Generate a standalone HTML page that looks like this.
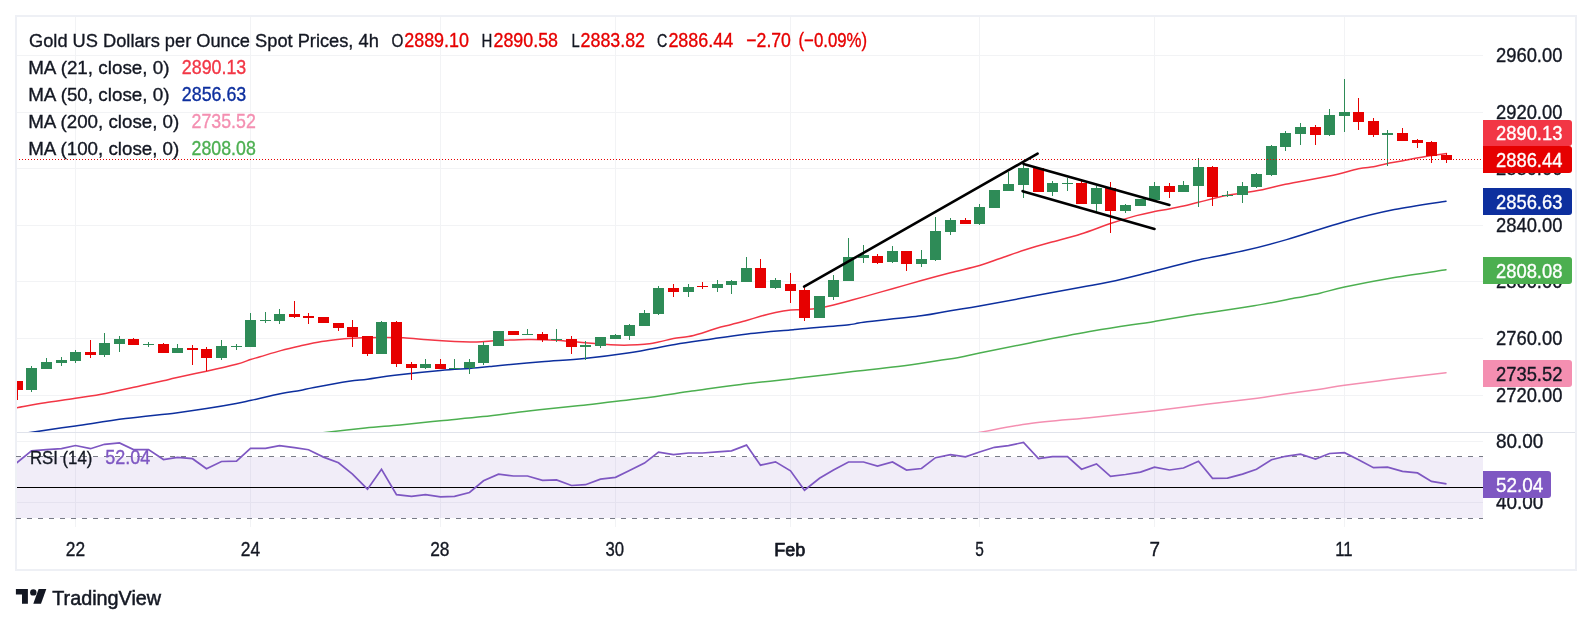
<!DOCTYPE html>
<html><head><meta charset="utf-8"><title>Gold chart</title>
<style>html,body{margin:0;padding:0;background:#fff}body{width:1592px;height:625px;overflow:hidden}svg{display:block}text{font-family:"Liberation Sans",sans-serif;font-size:19.2px;stroke-width:0.35px;paint-order:stroke fill}</style>
</head><body>
<svg width="1592" height="625" viewBox="0 0 1592 625" style="will-change:transform">
<defs><clipPath id="main"><rect x="17" y="17" width="1466" height="416"/></clipPath><clipPath id="rsi"><rect x="17" y="433" width="1466" height="94"/></clipPath></defs>
<rect x="0" y="0" width="1592" height="625" fill="#ffffff"/>
<rect x="16" y="16" width="1560" height="554" fill="none" stroke="#eef0f5" stroke-width="2"/>
<g fill="#f2f3f5" shape-rendering="crispEdges">
<rect x="75" y="17" width="1" height="510"/>
<rect x="250" y="17" width="1" height="510"/>
<rect x="440" y="17" width="1" height="510"/>
<rect x="615" y="17" width="1" height="510"/>
<rect x="790" y="17" width="1" height="510"/>
<rect x="979" y="17" width="1" height="510"/>
<rect x="1154" y="17" width="1" height="510"/>
<rect x="1344" y="17" width="1" height="510"/>
<rect x="17" y="55" width="1466" height="1"/>
<rect x="17" y="112" width="1466" height="1"/>
<rect x="17" y="168" width="1466" height="1"/>
<rect x="17" y="225" width="1466" height="1"/>
<rect x="17" y="281" width="1466" height="1"/>
<rect x="17" y="338" width="1466" height="1"/>
<rect x="17" y="395" width="1466" height="1"/>
<rect x="17" y="441" width="1466" height="1"/>
<rect x="17" y="502" width="1466" height="1"/>
</g>
<rect x="17" y="457" width="1466" height="61" fill="#7e57c2" fill-opacity="0.11"/>
<g stroke="#787b86" stroke-width="1" stroke-dasharray="5 6" shape-rendering="crispEdges"><line x1="16" y1="456.5" x2="1483" y2="456.5"/><line x1="16" y1="518.5" x2="1483" y2="518.5"/></g>
<rect x="17" y="487" width="1466" height="1" fill="#000" shape-rendering="crispEdges"/>
<g clip-path="url(#main)">
<g fill="none" stroke-width="1.5" stroke-linejoin="round" stroke-linecap="round">
<path stroke="#f48fb1" d="M960.0 435.0 C963.0 434.6 966.6 434.6 978.0 432.7 C989.4 430.8 1009.3 426.3 1028.6 423.7 C1047.9 421.1 1073.0 419.4 1094.0 417.2 C1115.0 415.0 1135.4 412.9 1154.4 410.7 C1173.5 408.5 1191.2 406.2 1208.3 404.1 C1225.4 402.0 1244.8 399.8 1257.3 398.2 C1269.8 396.6 1273.0 395.8 1283.4 394.3 C1293.9 392.8 1309.8 390.7 1320.0 389.2 C1330.2 387.7 1332.1 387.0 1344.5 385.3 C1356.9 383.6 1377.5 380.9 1394.4 378.8 C1411.3 376.7 1437.4 373.7 1446.0 372.7"/>
<path stroke="#4caf50" d="M300.0 434.9 C303.8 434.5 312.0 433.8 322.9 432.7 C333.8 431.6 352.4 429.3 365.3 428.0 C378.2 426.7 387.5 426.1 400.0 424.9 C412.5 423.7 426.7 422.2 440.5 420.8 C454.3 419.4 468.2 418.2 482.9 416.6 C497.6 415.0 512.8 412.8 528.6 411.0 C544.4 409.2 559.1 407.9 577.6 405.8 C596.1 403.7 620.6 401.1 639.7 398.6 C658.8 396.2 675.1 393.5 692.0 391.1 C708.9 388.8 724.7 386.5 741.0 384.5 C757.3 382.5 780.2 380.1 790.0 379.0 C799.8 377.9 790.2 378.8 800.0 377.7 C809.8 376.6 832.7 374.0 849.0 372.1 C865.3 370.2 883.3 368.5 898.0 366.6 C912.7 364.7 926.9 362.3 937.2 360.7 C947.5 359.1 952.9 358.5 960.0 357.2 C967.1 355.9 968.2 355.3 979.6 353.0 C991.0 350.7 1009.5 346.9 1028.6 343.2 C1047.7 339.5 1073.0 334.4 1094.0 330.8 C1115.0 327.2 1137.1 324.2 1154.5 321.4 C1171.9 318.6 1189.4 315.6 1198.4 314.1 C1207.4 312.7 1199.0 314.1 1208.3 312.7 C1217.6 311.3 1239.3 308.3 1254.0 305.8 C1268.7 303.3 1285.4 299.9 1296.4 297.8 C1307.4 295.7 1312.0 295.0 1320.0 293.2 C1328.0 291.4 1332.1 289.6 1344.5 287.0 C1356.9 284.4 1377.5 280.4 1394.4 277.5 C1411.3 274.6 1437.4 271.1 1446.0 269.8"/>
<path stroke="#0d2f9e" d="M16.0 435.0 C18.4 434.6 20.3 434.1 30.2 432.6 C40.1 431.1 59.5 428.2 75.4 425.9 C91.3 423.6 108.8 420.8 125.6 418.6 C142.3 416.4 162.4 414.6 175.9 412.9 C189.4 411.2 196.4 410.2 206.5 408.6 C216.6 407.1 228.7 405.0 236.2 403.6 C243.7 402.2 243.8 402.0 251.3 400.3 C258.8 398.6 273.3 395.1 281.4 393.5 C289.5 391.9 294.6 391.4 300.0 390.4 C305.4 389.4 305.8 388.9 314.0 387.4 C322.2 385.9 340.1 382.7 349.0 381.3 C357.9 379.9 359.8 380.2 367.4 379.2 C375.0 378.2 382.5 376.7 394.7 375.2 C406.9 373.7 428.0 371.5 440.5 370.4 C453.0 369.3 461.3 369.0 469.5 368.4 C477.7 367.8 484.4 367.1 489.5 366.6 C494.6 366.1 491.3 366.3 500.0 365.5 C508.7 364.7 527.7 362.9 541.7 361.7 C555.7 360.5 569.6 359.9 584.2 358.4 C598.9 356.9 614.5 355.0 629.6 352.7 C644.7 350.4 661.8 346.7 675.0 344.5 C688.2 342.3 696.6 341.2 708.7 339.4 C720.8 337.6 734.0 335.5 747.5 333.9 C761.0 332.3 781.2 330.8 790.0 330.0 C798.8 329.2 790.2 329.9 800.0 329.0 C809.8 328.1 838.4 325.8 849.0 324.7 C859.6 323.6 851.6 323.7 863.6 322.2 C875.6 320.7 906.4 317.7 920.9 315.8 C935.4 313.9 940.6 312.3 950.4 310.7 C960.2 309.1 967.1 308.3 979.6 306.1 C992.1 303.9 1008.4 300.7 1025.3 297.6 C1042.2 294.5 1066.7 289.9 1080.9 287.3 C1095.1 284.7 1098.0 284.5 1110.3 281.8 C1122.6 279.1 1140.0 274.6 1154.7 271.0 C1169.4 267.4 1183.8 263.2 1198.4 259.9 C1213.0 256.6 1227.8 254.5 1242.5 251.1 C1257.2 247.7 1269.6 244.5 1286.6 239.6 C1303.6 234.7 1326.5 226.7 1344.5 221.7 C1362.5 216.7 1377.5 213.0 1394.4 209.6 C1411.3 206.2 1437.4 202.6 1446.0 201.2"/>
<path stroke="#f23645" d="M16.3 407.8 C21.1 407.0 35.4 404.4 45.2 402.8 C55.1 401.2 65.4 399.9 75.4 398.3 C85.5 396.7 94.6 395.5 105.5 393.4 C116.4 391.3 131.1 387.8 140.7 385.7 C150.3 383.6 157.4 382.1 163.3 380.8 C169.2 379.5 168.7 379.3 175.9 377.7 C183.1 376.1 196.4 373.4 206.5 371.2 C216.6 369.0 229.1 366.2 236.4 364.3 C243.7 362.4 246.6 360.8 250.5 359.5 C254.4 358.2 254.9 358.3 260.0 356.8 C265.1 355.3 274.1 352.4 280.8 350.6 C287.5 348.8 293.2 347.5 300.0 346.0 C306.8 344.5 314.3 342.8 321.7 341.6 C329.1 340.4 337.7 339.5 344.5 338.8 C351.3 338.1 356.4 337.9 362.5 337.7 C368.6 337.5 374.2 337.4 381.0 337.4 C387.8 337.4 395.5 337.3 403.3 337.7 C411.1 338.1 419.2 339.1 427.8 339.8 C436.4 340.5 446.4 341.2 454.6 341.6 C462.8 342.0 469.5 342.1 476.8 341.9 C484.1 341.7 490.1 341.0 498.5 340.6 C506.9 340.2 517.8 339.5 527.5 339.4 C537.2 339.3 546.9 339.6 556.6 340.2 C566.3 340.8 576.5 341.9 585.5 342.7 C594.5 343.5 603.4 344.4 610.7 344.8 C618.0 345.2 623.8 345.2 629.4 345.1 C635.0 345.0 639.6 344.8 644.5 344.3 C649.4 343.8 653.7 342.9 658.5 342.0 C663.3 341.1 668.5 339.5 673.5 338.6 C678.5 337.7 683.6 337.5 688.4 336.6 C693.2 335.7 697.5 334.4 702.4 333.0 C707.2 331.6 712.6 329.4 717.5 328.0 C722.4 326.6 726.7 325.8 731.5 324.5 C736.3 323.2 741.7 321.9 746.5 320.5 C751.3 319.1 755.7 317.7 760.5 316.3 C765.3 314.9 770.5 313.5 775.5 312.4 C780.5 311.3 785.8 310.4 790.6 309.9 C795.4 309.4 799.6 309.9 804.4 309.6 C809.2 309.3 814.6 308.8 819.5 308.0 C824.4 307.2 828.7 306.2 833.5 305.0 C838.3 303.8 843.5 302.4 848.5 301.0 C853.5 299.6 856.3 298.9 863.6 296.9 C870.9 294.8 882.9 291.4 892.5 288.7 C902.1 286.0 911.9 283.2 921.5 280.5 C931.1 277.8 940.7 275.2 950.4 272.7 C960.1 270.2 971.3 267.9 979.6 265.5 C987.9 263.1 992.4 261.1 1000.0 258.5 C1007.6 255.9 1017.0 252.5 1025.3 249.8 C1033.6 247.1 1040.7 245.1 1050.0 242.5 C1059.3 239.9 1070.8 237.2 1080.9 234.0 C1091.0 230.8 1101.2 226.6 1110.4 223.5 C1119.7 220.4 1129.1 217.6 1136.4 215.6 C1143.8 213.6 1149.1 212.6 1154.5 211.5 C1159.9 210.4 1164.2 209.8 1169.0 208.9 C1173.8 208.0 1178.6 207.1 1183.5 206.0 C1188.4 204.9 1191.2 204.1 1198.5 202.3 C1205.8 200.5 1217.8 197.2 1227.5 195.3 C1237.2 193.4 1246.8 192.6 1256.5 190.8 C1266.2 189.0 1273.2 186.8 1285.4 184.3 C1297.6 181.8 1317.3 178.6 1329.5 176.0 C1341.7 173.4 1351.1 170.4 1358.4 168.8 C1365.7 167.2 1368.7 167.6 1373.5 166.7 C1378.3 165.8 1379.8 165.1 1387.5 163.6 C1395.2 162.1 1410.2 159.1 1420.0 157.4 C1429.8 155.7 1442.0 154.2 1446.4 153.6"/>
</g>
<g shape-rendering="crispEdges">
<g fill="#e60000"><rect x="17" y="381" width="1" height="19"/><rect x="12" y="381" width="11" height="9"/></g>
<g fill="#2e8b57"><rect x="31" y="366" width="1" height="26"/><rect x="26" y="368" width="11" height="22"/></g>
<g fill="#2e8b57"><rect x="46" y="358" width="1" height="11"/><rect x="41" y="362" width="11" height="7"/></g>
<g fill="#2e8b57"><rect x="61" y="357" width="1" height="9"/><rect x="56" y="360" width="11" height="3"/></g>
<g fill="#2e8b57"><rect x="75" y="350" width="1" height="13"/><rect x="70" y="352" width="11" height="9"/></g>
<g fill="#e60000"><rect x="90" y="340" width="1" height="18"/><rect x="85" y="352" width="11" height="3"/></g>
<g fill="#2e8b57"><rect x="104" y="333" width="1" height="24"/><rect x="99" y="343" width="11" height="12"/></g>
<g fill="#2e8b57"><rect x="119" y="336" width="1" height="16"/><rect x="114" y="339" width="11" height="5"/></g>
<g fill="#e60000"><rect x="133" y="338" width="1" height="7"/><rect x="128" y="339" width="11" height="6"/></g>
<g fill="#2e8b57"><rect x="148" y="342" width="1" height="5"/><rect x="143" y="344" width="11" height="1"/></g>
<g fill="#e60000"><rect x="163" y="343" width="1" height="10"/><rect x="158" y="344" width="11" height="9"/></g>
<g fill="#2e8b57"><rect x="177" y="344" width="1" height="9"/><rect x="172" y="348" width="11" height="5"/></g>
<g fill="#e60000"><rect x="192" y="345" width="1" height="20"/><rect x="187" y="348" width="11" height="2"/></g>
<g fill="#e60000"><rect x="206" y="347" width="1" height="24"/><rect x="201" y="349" width="11" height="9"/></g>
<g fill="#2e8b57"><rect x="221" y="340" width="1" height="20"/><rect x="216" y="346" width="11" height="12"/></g>
<g fill="#2e8b57"><rect x="236" y="344" width="1" height="6"/><rect x="231" y="346" width="11" height="1"/></g>
<g fill="#2e8b57"><rect x="250" y="313" width="1" height="34"/><rect x="245" y="320" width="11" height="27"/></g>
<g fill="#2e8b57"><rect x="265" y="312" width="1" height="11"/><rect x="260" y="320" width="11" height="1"/></g>
<g fill="#2e8b57"><rect x="279" y="309" width="1" height="15"/><rect x="274" y="314" width="11" height="7"/></g>
<g fill="#e60000"><rect x="294" y="301" width="1" height="17"/><rect x="289" y="314" width="11" height="3"/></g>
<g fill="#e60000"><rect x="308" y="313" width="1" height="11"/><rect x="303" y="316" width="11" height="2"/></g>
<g fill="#e60000"><rect x="318" y="317" width="11" height="6"/></g>
<g fill="#e60000"><rect x="338" y="323" width="1" height="8"/><rect x="333" y="323" width="11" height="5"/></g>
<g fill="#e60000"><rect x="352" y="320" width="1" height="27"/><rect x="347" y="327" width="11" height="10"/></g>
<g fill="#e60000"><rect x="367" y="336" width="1" height="20"/><rect x="362" y="336" width="11" height="18"/></g>
<g fill="#2e8b57"><rect x="381" y="321" width="1" height="33"/><rect x="376" y="322" width="11" height="32"/></g>
<g fill="#e60000"><rect x="396" y="321" width="1" height="46"/><rect x="391" y="322" width="11" height="42"/></g>
<g fill="#e60000"><rect x="411" y="362" width="1" height="18"/><rect x="406" y="364" width="11" height="4"/></g>
<g fill="#2e8b57"><rect x="425" y="359" width="1" height="10"/><rect x="420" y="364" width="11" height="4"/></g>
<g fill="#e60000"><rect x="440" y="359" width="1" height="10"/><rect x="435" y="364" width="11" height="5"/></g>
<g fill="#2e8b57"><rect x="454" y="359" width="1" height="10"/><rect x="449" y="368" width="11" height="1"/></g>
<g fill="#2e8b57"><rect x="469" y="359" width="1" height="15"/><rect x="464" y="362" width="11" height="6"/></g>
<g fill="#2e8b57"><rect x="483" y="342" width="1" height="23"/><rect x="478" y="345" width="11" height="18"/></g>
<g fill="#2e8b57"><rect x="493" y="331" width="11" height="15"/></g>
<g fill="#e60000"><rect x="508" y="331" width="11" height="4"/></g>
<g fill="#2e8b57"><rect x="527" y="329" width="1" height="6"/><rect x="522" y="334" width="11" height="1"/></g>
<g fill="#e60000"><rect x="542" y="332" width="1" height="10"/><rect x="537" y="334" width="11" height="6"/></g>
<g fill="#2e8b57"><rect x="556" y="329" width="1" height="13"/><rect x="551" y="339" width="11" height="1"/></g>
<g fill="#e60000"><rect x="571" y="336" width="1" height="18"/><rect x="566" y="339" width="11" height="8"/></g>
<g fill="#2e8b57"><rect x="585" y="341" width="1" height="19"/><rect x="580" y="345" width="11" height="2"/></g>
<g fill="#2e8b57"><rect x="600" y="337" width="1" height="11"/><rect x="595" y="337" width="11" height="9"/></g>
<g fill="#2e8b57"><rect x="615" y="334" width="1" height="5"/><rect x="610" y="335" width="11" height="4"/></g>
<g fill="#2e8b57"><rect x="629" y="324" width="1" height="16"/><rect x="624" y="325" width="11" height="11"/></g>
<g fill="#2e8b57"><rect x="644" y="310" width="1" height="16"/><rect x="639" y="313" width="11" height="13"/></g>
<g fill="#2e8b57"><rect x="658" y="286" width="1" height="29"/><rect x="653" y="288" width="11" height="26"/></g>
<g fill="#e60000"><rect x="673" y="284" width="1" height="13"/><rect x="668" y="288" width="11" height="4"/></g>
<g fill="#2e8b57"><rect x="688" y="284" width="1" height="13"/><rect x="683" y="287" width="11" height="5"/></g>
<g fill="#e60000"><rect x="702" y="282" width="1" height="7"/><rect x="697" y="286" width="11" height="1"/></g>
<g fill="#2e8b57"><rect x="717" y="280" width="1" height="12"/><rect x="712" y="284" width="11" height="4"/></g>
<g fill="#2e8b57"><rect x="731" y="280" width="1" height="14"/><rect x="726" y="281" width="11" height="4"/></g>
<g fill="#2e8b57"><rect x="746" y="257" width="1" height="25"/><rect x="741" y="268" width="11" height="14"/></g>
<g fill="#e60000"><rect x="760" y="259" width="1" height="29"/><rect x="755" y="268" width="11" height="20"/></g>
<g fill="#2e8b57"><rect x="775" y="278" width="1" height="11"/><rect x="770" y="280" width="11" height="8"/></g>
<g fill="#e60000"><rect x="790" y="273" width="1" height="30"/><rect x="785" y="284" width="11" height="7"/></g>
<g fill="#e60000"><rect x="804" y="288" width="1" height="33"/><rect x="799" y="290" width="11" height="28"/></g>
<g fill="#2e8b57"><rect x="814" y="296" width="11" height="22"/></g>
<g fill="#2e8b57"><rect x="833" y="275" width="1" height="25"/><rect x="828" y="280" width="11" height="17"/></g>
<g fill="#2e8b57"><rect x="848" y="238" width="1" height="43"/><rect x="843" y="257" width="11" height="24"/></g>
<g fill="#2e8b57"><rect x="863" y="245" width="1" height="18"/><rect x="858" y="255" width="11" height="3"/></g>
<g fill="#e60000"><rect x="877" y="254" width="1" height="10"/><rect x="872" y="256" width="11" height="7"/></g>
<g fill="#2e8b57"><rect x="892" y="246" width="1" height="17"/><rect x="887" y="251" width="11" height="11"/></g>
<g fill="#e60000"><rect x="906" y="251" width="1" height="20"/><rect x="901" y="251" width="11" height="13"/></g>
<g fill="#2e8b57"><rect x="921" y="250" width="1" height="17"/><rect x="916" y="259" width="11" height="5"/></g>
<g fill="#2e8b57"><rect x="935" y="217" width="1" height="44"/><rect x="930" y="231" width="11" height="29"/></g>
<g fill="#2e8b57"><rect x="950" y="218" width="1" height="17"/><rect x="945" y="220" width="11" height="12"/></g>
<g fill="#e60000"><rect x="965" y="218" width="1" height="6"/><rect x="960" y="220" width="11" height="4"/></g>
<g fill="#2e8b57"><rect x="979" y="204" width="1" height="21"/><rect x="974" y="207" width="11" height="17"/></g>
<g fill="#2e8b57"><rect x="989" y="190" width="11" height="18"/></g>
<g fill="#2e8b57"><rect x="1008" y="172" width="1" height="19"/><rect x="1003" y="184" width="11" height="7"/></g>
<g fill="#2e8b57"><rect x="1023" y="165" width="1" height="33"/><rect x="1018" y="168" width="11" height="17"/></g>
<g fill="#e60000"><rect x="1038" y="167" width="1" height="25"/><rect x="1033" y="168" width="11" height="24"/></g>
<g fill="#2e8b57"><rect x="1052" y="181" width="1" height="15"/><rect x="1047" y="183" width="11" height="9"/></g>
<g fill="#2e8b57"><rect x="1067" y="178" width="1" height="13"/><rect x="1062" y="183" width="11" height="1"/></g>
<g fill="#e60000"><rect x="1081" y="179" width="1" height="25"/><rect x="1076" y="183" width="11" height="21"/></g>
<g fill="#2e8b57"><rect x="1096" y="186" width="1" height="26"/><rect x="1091" y="188" width="11" height="16"/></g>
<g fill="#e60000"><rect x="1110" y="182" width="1" height="51"/><rect x="1105" y="188" width="11" height="23"/></g>
<g fill="#2e8b57"><rect x="1125" y="204" width="1" height="9"/><rect x="1120" y="205" width="11" height="6"/></g>
<g fill="#2e8b57"><rect x="1135" y="199" width="11" height="7"/></g>
<g fill="#2e8b57"><rect x="1154" y="182" width="1" height="18"/><rect x="1149" y="186" width="11" height="14"/></g>
<g fill="#e60000"><rect x="1169" y="183" width="1" height="15"/><rect x="1164" y="186" width="11" height="6"/></g>
<g fill="#2e8b57"><rect x="1183" y="181" width="1" height="11"/><rect x="1178" y="185" width="11" height="7"/></g>
<g fill="#2e8b57"><rect x="1198" y="158" width="1" height="49"/><rect x="1193" y="167" width="11" height="19"/></g>
<g fill="#e60000"><rect x="1212" y="166" width="1" height="40"/><rect x="1207" y="167" width="11" height="30"/></g>
<g fill="#2e8b57"><rect x="1227" y="191" width="1" height="6"/><rect x="1222" y="195" width="11" height="1"/></g>
<g fill="#2e8b57"><rect x="1242" y="182" width="1" height="21"/><rect x="1237" y="186" width="11" height="9"/></g>
<g fill="#2e8b57"><rect x="1256" y="173" width="1" height="15"/><rect x="1251" y="174" width="11" height="13"/></g>
<g fill="#2e8b57"><rect x="1271" y="145" width="1" height="31"/><rect x="1266" y="146" width="11" height="29"/></g>
<g fill="#2e8b57"><rect x="1285" y="131" width="1" height="20"/><rect x="1280" y="133" width="11" height="14"/></g>
<g fill="#2e8b57"><rect x="1300" y="123" width="1" height="22"/><rect x="1295" y="127" width="11" height="7"/></g>
<g fill="#e60000"><rect x="1315" y="125" width="1" height="20"/><rect x="1310" y="127" width="11" height="8"/></g>
<g fill="#2e8b57"><rect x="1329" y="109" width="1" height="27"/><rect x="1324" y="115" width="11" height="20"/></g>
<g fill="#2e8b57"><rect x="1344" y="79" width="1" height="53"/><rect x="1339" y="112" width="11" height="4"/></g>
<g fill="#e60000"><rect x="1358" y="98" width="1" height="32"/><rect x="1353" y="112" width="11" height="10"/></g>
<g fill="#e60000"><rect x="1373" y="118" width="1" height="19"/><rect x="1368" y="121" width="11" height="14"/></g>
<g fill="#2e8b57"><rect x="1387" y="130" width="1" height="36"/><rect x="1382" y="133" width="11" height="2"/></g>
<g fill="#e60000"><rect x="1402" y="128" width="1" height="13"/><rect x="1397" y="133" width="11" height="8"/></g>
<g fill="#e60000"><rect x="1417" y="139" width="1" height="9"/><rect x="1412" y="140" width="11" height="3"/></g>
<g fill="#e60000"><rect x="1431" y="141" width="1" height="22"/><rect x="1426" y="142" width="11" height="14"/></g>
<g fill="#e60000"><rect x="1446" y="153" width="1" height="10"/><rect x="1441" y="155" width="11" height="5"/></g>
</g>
<line x1="16" y1="159.5" x2="1483" y2="159.5" stroke="#e60000" stroke-width="1" stroke-dasharray="1 2" shape-rendering="crispEdges"/>
<g stroke="#000" stroke-width="2.6" stroke-linecap="round"><line x1="804.1" y1="286.7" x2="1037.6" y2="153.6"/><line x1="1023.5" y1="163.9" x2="1169.4" y2="205"/><line x1="1022.6" y1="191.2" x2="1154.5" y2="228.9"/></g>
</g>
<rect x="17" y="432" width="1558" height="1" fill="#e0e3eb" shape-rendering="crispEdges"/>
<g clip-path="url(#rsi)"><polyline fill="none" stroke="#7e57c2" stroke-width="1.7" stroke-linejoin="miter" points="16.3,463.1 31.5,450.9 46.5,449.6 61.5,448.7 75.5,445.5 90.5,448.7 104.5,444.3 119.5,442.9 133.5,449.6 148.5,449.6 163.5,459.5 177.5,457.4 192.5,458.7 206.5,468.8 221.5,461.5 236.5,461.2 250.5,448.4 265.5,448.4 279.5,445.6 294.5,447.6 308.5,449.7 323.5,457.1 338.5,462.8 352.5,474.2 367.5,489.2 381.5,469.2 396.5,494.6 411.5,496.4 425.5,494.6 440.5,496.8 454.5,496.3 469.5,492.5 483.5,480.8 498.5,474.1 513.5,476.0 527.5,476.0 542.5,480.3 556.5,479.9 571.5,485.5 585.5,484.7 600.5,479.1 615.5,477.3 629.5,470.5 644.5,463.1 658.5,452.2 673.5,454.6 688.5,453.0 702.5,453.0 717.5,451.8 731.5,450.9 746.5,445.1 760.5,465.2 775.5,461.8 790.5,470.8 804.5,490.2 819.5,478.3 833.5,470.1 848.5,462.0 863.5,462.0 877.5,466.1 892.5,462.0 906.5,470.1 921.5,468.5 935.5,457.7 950.5,454.6 965.5,456.8 979.5,452.0 994.5,447.3 1008.5,445.6 1023.5,442.4 1038.5,458.7 1052.5,456.6 1067.5,456.6 1081.5,469.2 1096.5,463.9 1110.5,476.3 1125.5,474.5 1140.5,472.1 1154.5,467.2 1169.5,470.0 1183.5,468.0 1198.5,461.2 1212.5,478.3 1227.5,478.1 1242.5,474.1 1256.5,469.2 1271.5,459.8 1285.5,456.3 1300.5,454.1 1315.5,459.0 1329.5,453.5 1344.5,452.7 1358.5,459.8 1373.5,467.7 1387.5,467.2 1402.5,471.4 1417.5,472.9 1431.5,481.4 1446.5,483.9"/></g>
<text x="29.0" y="46.6" textLength="349.8" lengthAdjust="spacingAndGlyphs" fill="#131722" stroke="#131722">Gold US Dollars per Ounce Spot Prices, 4h</text>
<text x="391.5" y="46.6" textLength="11.9" lengthAdjust="spacingAndGlyphs" fill="#131722" stroke="#131722">O</text>
<text x="404.2" y="46.6" textLength="64.8" lengthAdjust="spacingAndGlyphs" fill="#e60000" stroke="#e60000" style="font-size:19.8px">2889.10</text>
<text x="481.6" y="46.6" textLength="10.8" lengthAdjust="spacingAndGlyphs" fill="#131722" stroke="#131722">H</text>
<text x="493.5" y="46.6" textLength="64.5" lengthAdjust="spacingAndGlyphs" fill="#e60000" stroke="#e60000" style="font-size:19.8px">2890.58</text>
<text x="571.4" y="46.6" textLength="8.2" lengthAdjust="spacingAndGlyphs" fill="#131722" stroke="#131722">L</text>
<text x="580.6" y="46.6" textLength="64.4" lengthAdjust="spacingAndGlyphs" fill="#e60000" stroke="#e60000" style="font-size:19.8px">2883.82</text>
<text x="656.9" y="46.6" textLength="10.3" lengthAdjust="spacingAndGlyphs" fill="#131722" stroke="#131722">C</text>
<text x="668.4" y="46.6" textLength="64.8" lengthAdjust="spacingAndGlyphs" fill="#e60000" stroke="#e60000" style="font-size:19.8px">2886.44</text>
<text x="746.3" y="46.6" textLength="44.6" lengthAdjust="spacingAndGlyphs" fill="#e60000" stroke="#e60000" style="font-size:19.8px">−2.70</text>
<text x="798.5" y="46.6" textLength="68.6" lengthAdjust="spacingAndGlyphs" fill="#e60000" stroke="#e60000" style="font-size:19.8px">(−0.09%)</text>
<text x="28.2" y="73.8" textLength="141.3" lengthAdjust="spacingAndGlyphs" fill="#131722" stroke="#131722">MA (21, close, 0)</text>
<text x="181.8" y="73.8" textLength="64.5" lengthAdjust="spacingAndGlyphs" fill="#f23645" stroke="#f23645" style="font-size:19.8px">2890.13</text>
<text x="28.2" y="100.7" textLength="141.3" lengthAdjust="spacingAndGlyphs" fill="#131722" stroke="#131722">MA (50, close, 0)</text>
<text x="181.8" y="100.7" textLength="64.5" lengthAdjust="spacingAndGlyphs" fill="#0d2f9e" stroke="#0d2f9e" style="font-size:19.8px">2856.63</text>
<text x="28.2" y="127.6" textLength="151.1" lengthAdjust="spacingAndGlyphs" fill="#131722" stroke="#131722">MA (200, close, 0)</text>
<text x="191.6" y="127.6" textLength="64.2" lengthAdjust="spacingAndGlyphs" fill="#f48fb1" stroke="#f48fb1" style="font-size:19.8px">2735.52</text>
<text x="28.2" y="154.5" textLength="151.1" lengthAdjust="spacingAndGlyphs" fill="#131722" stroke="#131722">MA (100, close, 0)</text>
<text x="191.6" y="154.5" textLength="64.2" lengthAdjust="spacingAndGlyphs" fill="#4caf50" stroke="#4caf50" style="font-size:19.8px">2808.08</text>
<text x="29.9" y="464.0" textLength="62.4" lengthAdjust="spacingAndGlyphs" fill="#131722" stroke="#131722">RSI (14)</text>
<text x="105.3" y="464.0" textLength="45.0" lengthAdjust="spacingAndGlyphs" fill="#7e57c2" stroke="#7e57c2" style="font-size:19.8px">52.04</text>
<text x="1496.0" y="62.0" textLength="66.4" lengthAdjust="spacingAndGlyphs" fill="#131722" stroke="#131722" style="font-size:19.8px">2960.00</text>
<text x="1496.0" y="119.0" textLength="66.4" lengthAdjust="spacingAndGlyphs" fill="#131722" stroke="#131722" style="font-size:19.8px">2920.00</text>
<text x="1496.0" y="175.0" textLength="66.4" lengthAdjust="spacingAndGlyphs" fill="#131722" stroke="#131722" style="font-size:19.8px">2880.00</text>
<text x="1496.0" y="232.0" textLength="66.4" lengthAdjust="spacingAndGlyphs" fill="#131722" stroke="#131722" style="font-size:19.8px">2840.00</text>
<text x="1496.0" y="288.0" textLength="66.4" lengthAdjust="spacingAndGlyphs" fill="#131722" stroke="#131722" style="font-size:19.8px">2800.00</text>
<text x="1496.0" y="345.0" textLength="66.4" lengthAdjust="spacingAndGlyphs" fill="#131722" stroke="#131722" style="font-size:19.8px">2760.00</text>
<text x="1496.0" y="402.0" textLength="66.4" lengthAdjust="spacingAndGlyphs" fill="#131722" stroke="#131722" style="font-size:19.8px">2720.00</text>
<text x="1495.9" y="447.7" textLength="47.3" lengthAdjust="spacingAndGlyphs" fill="#131722" stroke="#131722" style="font-size:19.8px">80.00</text>
<text x="1495.9" y="508.8" textLength="47.3" lengthAdjust="spacingAndGlyphs" fill="#131722" stroke="#131722" style="font-size:19.8px">40.00</text>
<path d="M1483 120 H1569 A3 3 0 0 1 1572 123 V143 A3 3 0 0 1 1569 146 H1483 Z" fill="#f23645"/>
<text x="1496.0" y="140.2" textLength="66.4" lengthAdjust="spacingAndGlyphs" fill="#fff" stroke="#fff" style="font-size:19.8px">2890.13</text>
<path d="M1483 146 H1569 A3 3 0 0 1 1572 149 V170 A3 3 0 0 1 1569 173 H1483 Z" fill="#e60000"/>
<text x="1496.0" y="166.7" textLength="66.4" lengthAdjust="spacingAndGlyphs" fill="#fff" stroke="#fff" style="font-size:19.8px">2886.44</text>
<path d="M1483 188 H1569 A3 3 0 0 1 1572 191 V212 A3 3 0 0 1 1569 215 H1483 Z" fill="#0d2f9e"/>
<text x="1496.0" y="208.7" textLength="66.4" lengthAdjust="spacingAndGlyphs" fill="#fff" stroke="#fff" style="font-size:19.8px">2856.63</text>
<path d="M1483 257 H1569 A3 3 0 0 1 1572 260 V281 A3 3 0 0 1 1569 284 H1483 Z" fill="#4caf50"/>
<text x="1496.0" y="277.7" textLength="66.4" lengthAdjust="spacingAndGlyphs" fill="#fff" stroke="#fff" style="font-size:19.8px">2808.08</text>
<path d="M1483 360 H1569 A3 3 0 0 1 1572 363 V384 A3 3 0 0 1 1569 387 H1483 Z" fill="#f48fb1"/>
<text x="1496.0" y="380.7" textLength="66.4" lengthAdjust="spacingAndGlyphs" fill="#131722" stroke="#131722" style="font-size:19.8px">2735.52</text>
<path d="M1483 471 H1548 A3 3 0 0 1 1551 474 V495 A3 3 0 0 1 1548 498 H1483 Z" fill="#7e57c2"/>
<text x="1496.0" y="491.7" textLength="47.4" lengthAdjust="spacingAndGlyphs" fill="#fff" stroke="#fff" style="font-size:19.8px">52.04</text>
<text x="65.8" y="555.9" textLength="19.3" lengthAdjust="spacingAndGlyphs" fill="#131722" stroke="#131722" style="font-size:19.8px">22</text>
<text x="240.8" y="555.9" textLength="19.3" lengthAdjust="spacingAndGlyphs" fill="#131722" stroke="#131722" style="font-size:19.8px">24</text>
<text x="430.2" y="555.9" textLength="19.3" lengthAdjust="spacingAndGlyphs" fill="#131722" stroke="#131722" style="font-size:19.8px">28</text>
<text x="605.5" y="555.9" textLength="18.6" lengthAdjust="spacingAndGlyphs" fill="#131722" stroke="#131722" style="font-size:19.8px">30</text>
<text x="774.3" y="555.9" textLength="31.0" lengthAdjust="spacingAndGlyphs" fill="#131722" stroke="#131722" style="stroke-width:0.75px">Feb</text>
<text x="975.2" y="555.9" textLength="8.6" lengthAdjust="spacingAndGlyphs" fill="#131722" stroke="#131722" style="font-size:19.8px">5</text>
<text x="1149.4" y="555.9" textLength="10.5" lengthAdjust="spacingAndGlyphs" fill="#131722" stroke="#131722" style="font-size:19.8px">7</text>
<text x="1335.2" y="555.9" textLength="17.3" lengthAdjust="spacingAndGlyphs" fill="#131722" stroke="#131722" style="font-size:19.8px">11</text>
<g fill="#131722"><path d="M15.9 589 H27.9 V603.8 H22 V594.6 H15.9 Z"/><circle cx="33.3" cy="592.4" r="3.2"/><path d="M38.6 589 H46.3 L41 603.8 H33.3 Z"/></g>
<text x="52.2" y="604.5" textLength="108.9" lengthAdjust="spacingAndGlyphs" fill="#131722" stroke="#131722" style="font-size:19.8px;stroke-width:0.5px">TradingView</text>
</svg>
</body></html>
